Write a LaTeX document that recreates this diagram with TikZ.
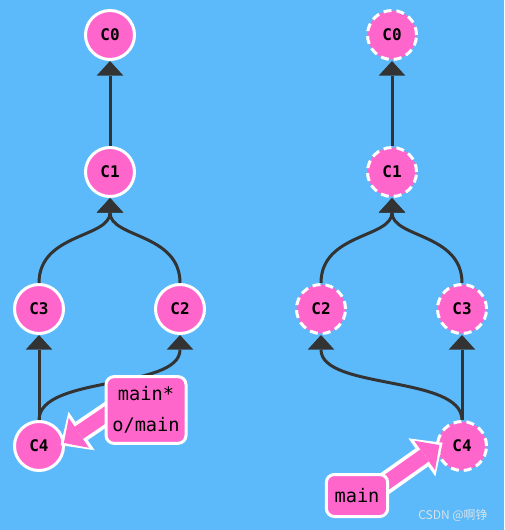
\documentclass[tikz,border=0pt]{standalone}
\usepackage{fontspec}
\setmonofont{DejaVu Sans Mono}
\newfontfamily\cjk{Noto Sans CJK SC}
\usetikzlibrary{arrows.meta}
\definecolor{bg}{RGB}{92,186,250}
\definecolor{pk}{RGB}{255,102,204}
\definecolor{dk}{RGB}{51,51,51}
\definecolor{wm}{RGB}{215,225,235}
\pgfdeclarelayer{front}
\pgfsetlayers{main,front}
\begin{document}
\begin{tikzpicture}[x=0.75pt,y=-0.75pt,
 commit/.style={circle, fill=pk, draw=white, line width=2.25pt, minimum size=36.75pt, inner sep=0pt, font=\ttfamily\bfseries\fontsize{12}{14}\selectfont},
 ghost/.style={commit, dash pattern=on 6pt off 3.75pt},
 conn/.style={draw=dk, line width=2.25pt, -{Triangle[length=11pt,width=20pt,line width=0pt]}},
 refbox/.style={rounded corners=6pt, fill=pk, draw=white, line width=2.25pt, align=center, font=\ttfamily\fontsize{14}{23}\selectfont, inner sep=0pt},
 fatout/.style={draw=white, line width=16.5pt, -{Triangle[length=19pt,width=35pt,line width=0pt]}},
 fatin/.style={draw=pk, line width=11pt, -{Triangle[length=13.5pt,width=27pt,line width=0pt]}}]
\useasboundingbox (0,0) rectangle (504,530);
\fill[bg] (0,0) rectangle (504,530);

% left graph
\node[commit] (c0l) at (110,35) {C0};
\node[commit] (c1l) at (110,172) {C1};
\node[commit] (c3l) at (39,309) {C3};
\node[commit] (c2l) at (180,309) {C2};
\node[commit] (c4l) at (39,446) {C4};
\draw[conn] (c1l) -- (c0l);
\draw[conn] (c3l.north) .. controls +(0,-50) and +(0,40) .. (c1l.south);
\draw[conn] (c2l.north) .. controls +(0,-50) and +(0,40) .. (c1l.south);
\draw[conn] (c4l) -- (c3l);
\draw[conn] (c4l.north) .. controls +(0,-45) and +(0,55) .. (c2l.south);

% right graph
\node[ghost] (c0r) at (392,35) {C0};
\node[ghost] (c1r) at (392,172) {C1};
\node[ghost] (c2r) at (321,309) {C2};
\node[ghost] (c3r) at (462,309) {C3};
\node[ghost] (c4r) at (462,446) {C4};
\draw[conn] (c1r) -- (c0r);
\draw[conn] (c2r.north) .. controls +(0,-50) and +(0,40) .. (c1r.south);
\draw[conn] (c3r.north) .. controls +(0,-50) and +(0,40) .. (c1r.south);
\draw[conn] (c4r) -- (c3r);
\draw[conn] (c4r.north) .. controls +(0,-45) and +(0,55) .. (c2r.south);

% branch labels
\begin{pgfonlayer}{front}
\node[refbox, minimum width=60pt, minimum height=50pt] (lbox) at (146,410) {main*\\o/main};
\node[refbox, minimum width=46pt, minimum height=31.5pt] (rbox) at (357,495.5) {main};
\end{pgfonlayer}
\draw[fatout, shorten >=-3.75pt] ([xshift=6pt]lbox.west) -- (c4l.8);
\draw[fatin, shorten >=-0.75pt] ([xshift=6pt]lbox.west) -- (c4l.8);
\draw[fatout, shorten >=-6pt] ([xshift=-6pt,yshift=7pt]rbox.east) -- (c4r.183);
\draw[fatin, shorten >=-3pt] ([xshift=-6pt,yshift=7pt]rbox.east) -- (c4r.183);

\node[font=\cjk\fontsize{9}{10}\selectfont, text=wm] (wmk) at (453,515) {CSDN @啊铮};
\end{tikzpicture}
\end{document}
